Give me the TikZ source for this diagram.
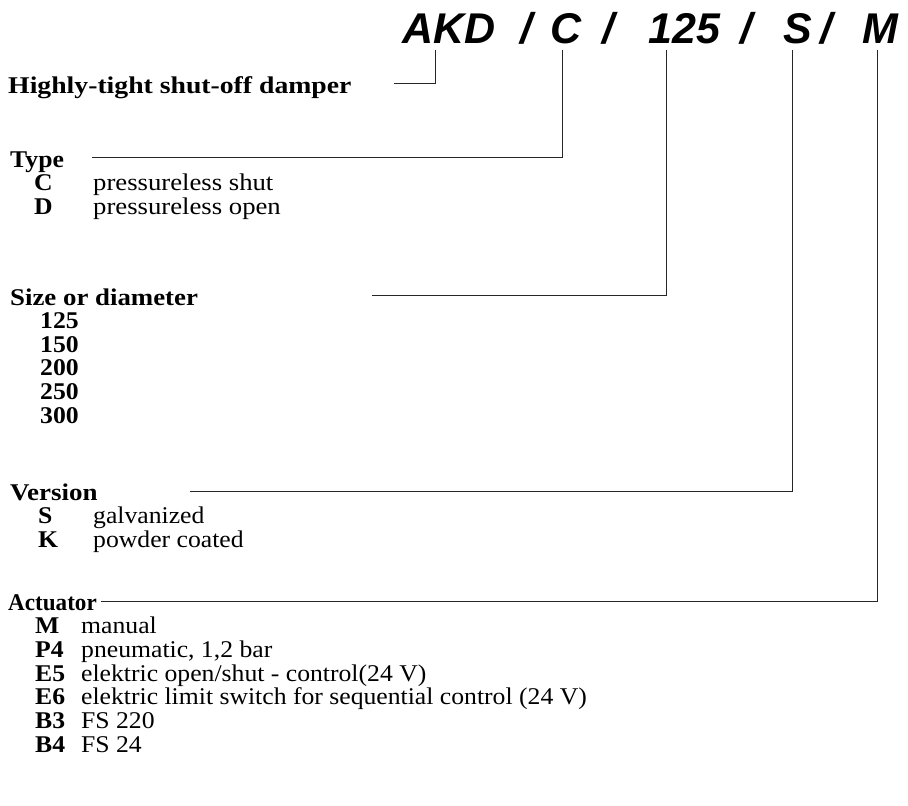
\documentclass[tikz,border=0pt]{standalone}
\usepackage{fontspec}
\usepackage{graphicx}
\setmainfont{Liberation Serif}[FakeStretch=1.07]
\newfontfamily\headfont{Liberation Sans}
\newcommand\bodysize{\fontsize{24}{28}\selectfont}
\newcommand\xs[2]{\scalebox{#1}[1]{#2}}
\begin{document}
\begin{tikzpicture}[x=1pt,y=-1pt,
  head/.style={font=\headfont\fontsize{43}{48}\selectfont\bfseries\itshape, anchor=base west, inner sep=0pt},
  ttl/.style={font=\bodysize\bfseries, anchor=base west, inner sep=0pt},
  code/.style={font=\bodysize\bfseries, anchor=base west, inner sep=0pt},
  desc/.style={font=\bodysize, anchor=base west, inner sep=0pt},
  conn/.style={draw=black!85, line width=0.9pt}]
\useasboundingbox (0,0) rectangle (908,806);
% header
\node[head] (akd) at (402,43) {AKD};
\node[head] (sl1) at (520,43) {/};
\node[head] (cc)  at (550,43) {C};
\node[head] (sl2) at (602,43) {/};
\node[head] (sz)  at (648,43) {125};
\node[head] (sl3) at (740,43) {/};
\node[head] (ss)  at (783,43) {S};
\node[head] (sl4) at (820,43) {/};
\node[head] (mm)  at (862,43) {M};
% titles and items
\node[ttl] (hl) at (8,93) {\xs{1.079}{Highly-tight shut-off damper}};
\node[ttl] (ty) at (10,167) {Type};
\node[code] (tc) at (34,190) {C};
\node[desc] (tcd) at (93,190) {\xs{1.04}{pressureless shut}};
\node[code] (td) at (34,214) {D};
\node[desc] (tdd) at (93,214) {\xs{1.04}{pressureless open}};
\node[ttl] (si) at (10,305) {\xs{1.045}{Size or diameter}};
\node[code] (s1) at (40,328) {125};
\node[code] (s2) at (40,352) {150};
\node[code] (s3) at (40,375) {200};
\node[code] (s4) at (40,399) {250};
\node[code] (s5) at (40,423) {300};
\node[ttl] (ve) at (10,500) {\xs{1.05}{Version}};
\node[code] (vs) at (38,523) {S};
\node[desc] (vsd) at (93,523) {galvanized};
\node[code] (vk) at (38,547) {K};
\node[desc] (vkd) at (93,547) {powder coated};
\node[ttl] (ac) at (8,610) {\xs{0.9}{Actuator}};
\node[code] (a1) at (35,633) {M};
\node[desc] (a1d) at (81,633) {manual};
\node[code] (a2) at (35,657) {P4};
\node[desc] (a2d) at (81,657) {pneumatic, 1,2 bar};
\node[code] (a3) at (35,681) {E5};
\node[desc] (a3d) at (81,681) {elektric open/shut - control(24 V)};
\node[code] (a4) at (35,704) {E6};
\node[desc] (a4d) at (81,704) {elektric limit switch for sequential control (24 V)};
\node[code] (a5) at (35,728) {B3};
\node[desc] (a5d) at (81,728) {FS 220};
\node[code] (a6) at (35,752) {B4};
\node[desc] (a6d) at (81,752) {FS 24};
% connector ends
\coordinate (t1) at (435,50); \coordinate (e1) at (394,83);
\coordinate (t2) at (562,50); \coordinate (e2) at (92,157);
\coordinate (t3) at (666,50); \coordinate (e3) at (372,295);
\coordinate (t4) at (792,50); \coordinate (e4) at (190,491);
\coordinate (t5) at (877,50); \coordinate (e5) at (101,601);
\draw[conn] (t1) |- (e1);
\draw[conn] (t2) |- (e2);
\draw[conn] (t3) |- (e3);
\draw[conn] (t4) |- (e4);
\draw[conn] (t5) |- (e5);
\end{tikzpicture}
\end{document}
